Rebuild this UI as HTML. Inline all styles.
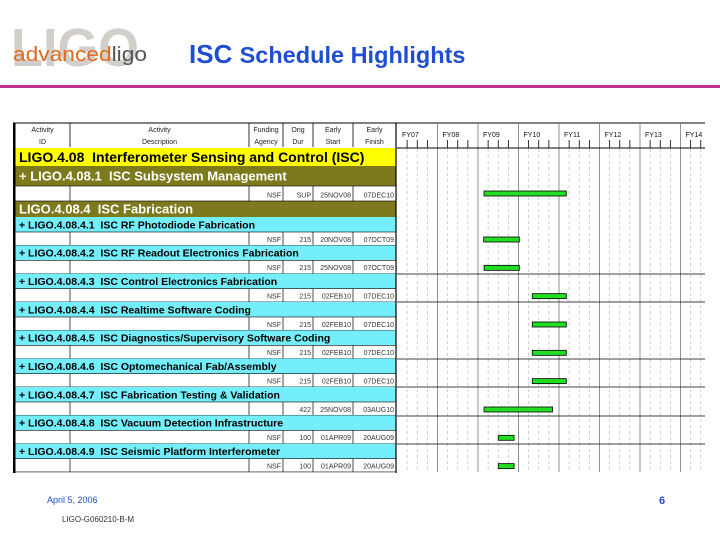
<!DOCTYPE html>
<html><head><meta charset="utf-8"><style>
body{margin:0;background:#fff;}
svg{display:block;font-family:"Liberation Sans",sans-serif;}
text{white-space:pre;}
</style></head><body>
<svg id="chart" width="720" height="540" viewBox="0 0 720 540">
<g>
<text x="11" y="66" font-size="54" font-weight="bold" fill="#d2cfcb" textLength="128" lengthAdjust="spacingAndGlyphs">LIGO</text>
<text x="13" y="61" font-size="20" fill="#e06a1e" textLength="134" lengthAdjust="spacingAndGlyphs">advanced<tspan fill="#555">ligo</tspan></text>
</g>
<text x="189" y="63" font-size="26" font-weight="bold" fill="#1f4fd0">ISC <tspan font-size="23.5">Schedule Highlights</tspan></text>
<rect x="0" y="85" width="720" height="3" fill="#c0308f"/>
<line x1="13" y1="123" x2="52" y2="123" stroke="#888" stroke-width="1"/>
<g id="table"></g>
<g id="gantt"></g>
<text x="47" y="503" font-size="9" fill="#1f4fd0">April 5, 2006</text>
<text x="62" y="522" font-size="8" fill="#333">LIGO-G060210-B-M</text>
<text x="659" y="504" font-size="11" font-weight="bold" fill="#1f4fd0">6</text>
</svg>
<script>
const fiscalYears=["FY07","FY08","FY09","FY10","FY11","FY12","FY13","FY14"];
const taskLabels=["+ LIGO.4.08.1  ISC Subsystem Management","+ LIGO.4.08.4.1  ISC RF Photodiode Fabrication","+ LIGO.4.08.4.2  ISC RF Readout Electronics Fabrication","+ LIGO.4.08.4.3  ISC Control Electronics Fabrication","+ LIGO.4.08.4.4  ISC Realtime Software Coding","+ LIGO.4.08.4.5  ISC Diagnostics/Supervisory Software Coding","+ LIGO.4.08.4.6  ISC Optomechanical Fab/Assembly","+ LIGO.4.08.4.7  ISC Fabrication Testing & Validation","+ LIGO.4.08.4.8  ISC Vacuum Detection Infrastructure","+ LIGO.4.08.4.9  ISC Seismic Platform Interferometer"];
const agencies=["NSF","NSF","NSF","NSF","NSF","NSF","NSF","","NSF","NSF"];
const origDur=["SUP","215","215","215","215","215","215","422","100","100"];
const startLabels=["25NOV08","20NOV08","25NOV08","02FEB10","02FEB10","02FEB10","02FEB10","25NOV08","01APR09","01APR09"];
const finishLabels=["07DEC10","07OCT09","07OCT09","07DEC10","07DEC10","07DEC10","07DEC10","03AUG10","20AUG09","20AUG09"];
// start/finish in fiscal-year units (FY07 begins at 2007.0)
const startFY=[2009.15,2009.14,2009.15,2010.34,2010.34,2010.34,2010.34,2009.15,2009.50,2009.50];
const finishFY=[2011.18,2010.02,2010.02,2011.18,2011.18,2011.18,2011.18,2010.84,2009.89,2009.89];

const NS="http://www.w3.org/2000/svg";
function el(p,t,a){const e=document.createElementNS(NS,t);for(const k in a)e.setAttribute(k,a[k]);p.appendChild(e);return e;}
const xS=fy=>397+(fy-2007)*40.5;
const rowY=i=>i===0?166:217+(i-1)*28.33;
const tb=document.getElementById('table'), g=document.getElementById('gantt');
const cols=[15,70,249,283,313,353,396];
const hdr=[["Activity","ID"],["Activity","Description"],["Funding","Agency"],["Orig","Dur"],["Early","Start"],["Early","Finish"]];
hdr.forEach((h,j)=>{const cx=(cols[j]+cols[j+1])/2;
 const t=el(tb,'text',{x:cx,y:132,'font-size':7,'text-anchor':'middle',fill:'#222'});t.textContent=h[0];
 
 const t2=el(tb,'text',{x:cx,y:144,'font-size':7,'text-anchor':'middle',fill:'#222'});t2.textContent=h[1];});
el(tb,'line',{x1:13,y1:123,x2:705,y2:123,stroke:'#000'});
for(let j=1;j<6;j++)el(tb,'line',{x1:cols[j],y1:123,x2:cols[j],y2:147,stroke:'#000','stroke-width':0.8});
function band(y,h,fill,txt,fs,col,name){el(tb,'rect',{x:15,y:y,width:381,height:h,fill:fill});
 const t=el(tb,'text',{x:19,y:y+h/2+fs*0.36,'font-size':fs,'font-weight':'bold',fill:col});t.textContent=txt;
 }
band(148,18,'#ffff00','LIGO.4.08  Interferometer Sensing and Control (ISC)',14,'#000','group-isc');
band(201,16,'#7d7a1e','LIGO.4.08.4  ISC Fabrication',13,'#fff','group-fabrication');
taskLabels.forEach((lab,i)=>{
 const y=i===0?166:rowY(i); const h=i===0?20:15;
 band(y,h,i===0?'#7d7a1e':'#74eefa',lab,i===0?13:10.5,i===0?'#fff':'#000','task-label');
 const ry=i===0?186:y+15, rh=i===0?15:13.3;
 el(tb,'rect',{x:15,y:ry,width:381,height:rh,fill:'#fff',stroke:'#000','stroke-width':0.6});
 for(let j=1;j<6;j++)el(tb,'line',{x1:cols[j],y1:ry,x2:cols[j],y2:ry+rh,stroke:'#000','stroke-width':0.7});
 const vals=[agencies[i],origDur[i],startLabels[i],finishLabels[i]];
 vals.forEach((v,k)=>{const t=el(tb,'text',{x:cols[k+3]-2,y:ry+rh-3.5,'font-size':7,'text-anchor':'end',fill:'#333'});t.textContent=v;});
});
el(tb,'rect',{x:13,y:123,width:2.5,height:350,fill:'#000'});
el(tb,'line',{x1:396,y1:123,x2:396,y2:473,stroke:'#000','stroke-width':1.2});
fiscalYears.forEach((f,k)=>{const x0=xS(2007+k);
 const t=el(g,'text',{x:x0+5,y:137,'font-size':7,fill:'#111'});t.textContent=f;
 
 if(k>0)el(g,'line',{x1:x0,y1:123,x2:x0,y2:472,stroke:'#777','stroke-width':0.8});
 for(let q=1;q<4;q++){const xq=x0+q*10.125; if(xq>705)continue;
  el(g,'line',{x1:xq,y1:140,x2:xq,y2:148,stroke:'#000','stroke-width':0.8});
  el(g,'line',{x1:xq,y1:149,x2:xq,y2:472,stroke:'#bbb','stroke-width':0.7,'stroke-dasharray':'3,3'});}
});
el(g,'line',{x1:397,y1:148,x2:705,y2:148,stroke:'#000'});
[274,302,359,387,416,444].forEach(y=>el(g,'line',{x1:397,y1:y,x2:705,y2:y,stroke:'#000','stroke-width':0.8}));
startFY.forEach((s,i)=>{const y=(i===0?186:rowY(i)+15)+5;
 const b=el(g,'rect',{x:xS(s),y:y,width:xS(finishFY[i])-xS(s),height:5,fill:'#22dd22',stroke:'#000','stroke-width':0.8});
 
 });
</script>
</body></html>
